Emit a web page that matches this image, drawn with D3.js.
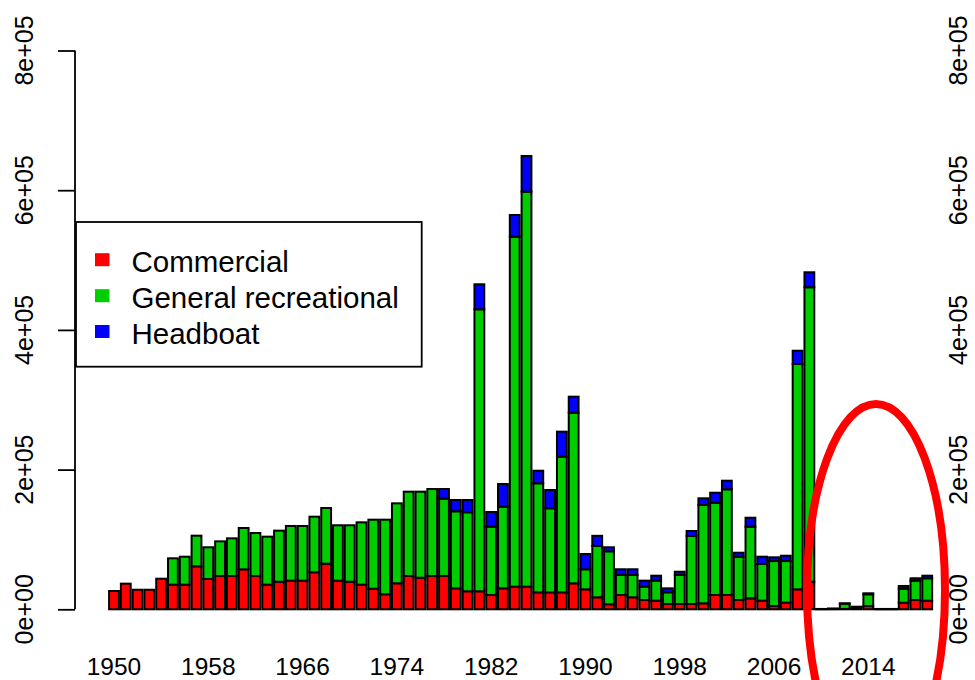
<!DOCTYPE html>
<html>
<head>
<meta charset="utf-8">
<script src="https://cdn.jsdelivr.net/npm/d3@7"></script>
<style>
  html, body { margin: 0; padding: 0; background: #fff; }
  svg { display: block; }
  text { font-family: "Liberation Sans", Arial, Helvetica, sans-serif; fill: #000; }
</style>
</head>
<body>
<svg id="chart" width="975" height="680"></svg>
<script>
const years = d3.range(1950, 2020);
const commercial = [
  26200, 36700, 28000, 28000, 43800, 35300, 35300, 61500, 43400, 47700,
  47700, 57200, 47700, 35300, 39500, 41000, 41000, 53000, 65300, 41000,
  39500, 35300, 29500, 21500, 37200, 47700, 45200, 47700, 47700, 30000,
  25800, 25800, 20500, 30000, 32400, 32400, 24300, 24300, 24300, 37200,
  28600, 17200, 7200, 20500, 17200, 13300, 12400, 7600, 7600, 7600,
  8600, 20500, 20500, 13300, 15700, 12400, 4700, 9500, 28600, 39500,
  200, 300, 500, 1000, 4700, 200, 200, 9500, 13300, 12400
];
const recreational = [
  0, 0, 0, 0, 0, 37700, 40000, 43900, 45400, 49600,
  53900, 59200, 61500, 68700, 73100, 78300, 78300, 79600, 79700, 79300,
  80800, 89200, 98800, 106800, 114500, 120700, 123200, 124500, 110700, 110300,
  113100, 403700, 97800, 116900, 501000, 565500, 156100, 120300, 194200, 244300,
  28700, 73600, 75800, 28600, 31900, 19100, 28600, 16700, 41500, 97400,
  140700, 132100, 151300, 62000, 102600, 52500, 64400, 59600, 322600, 421500,
  200, 500, 7500, 1500, 16800, 200, 200, 20000, 27700, 32000
];
const headboat = [
  0, 0, 0, 0, 0, 0, 0, 0, 0, 0,
  0, 0, 0, 0, 0, 0, 0, 0, 0, 0,
  0, 0, 0, 0, 0, 0, 0, 0, 13800, 16200,
  17600, 35800, 21000, 32500, 31100, 51100, 18000, 26200, 35800, 22900,
  21900, 14400, 5800, 8200, 8200, 8600, 7100, 5700, 4700, 7100,
  9600, 14300, 12300, 5700, 12800, 10400, 5300, 7600, 19000, 21500,
  100, 200, 600, 1200, 1400, 100, 100, 3900, 3400, 3700
];
const seriesNames = ["Commercial", "General recreational", "Headboat"];
const seriesColors = ["#ff0000", "#00cd00", "#0000ff"];
const xLabelYears = [1950, 1958, 1966, 1974, 1982, 1990, 1998, 2006, 2014];
const yTicks = [0, 200000, 400000, 600000, 800000];

const svg = d3.select("#chart");

const rows = years.map((y, i) => ({
  year: y,
  Commercial: commercial[i],
  "General recreational": recreational[i],
  Headboat: headboat[i]
}));
const stacked = d3.stack().keys(seriesNames)(rows);

const step = 11.786;
const bw = step / 1.2;
const firstCenter = 114;
const x = d3.scaleBand()
  .domain(years)
  .range([firstCenter - bw / 2, firstCenter - bw / 2 + step * (years.length - 1 / 6)])
  .paddingInner(1 / 6)
  .paddingOuter(0);

const y = d3.scaleLinear().domain([0, 800000]).range([609.3, 50.5]);

// bars
const layers = svg.append("g");
stacked.forEach((layer, li) => {
  layers.append("g")
    .selectAll("rect")
    .data(layer)
    .join("rect")
    .attr("x", d => x(d.data.year))
    .attr("width", x.bandwidth())
    .attr("y", d => y(d[1]))
    .attr("height", d => Math.max(0, y(d[0]) - y(d[1])))
    .attr("fill", seriesColors[li])
    .attr("stroke", "#000")
    .attr("stroke-width", 2);
});

// left axis
const axisX = 75;
const yAxis = d3.axisLeft(y).tickValues(yTicks).tickSize(17).tickFormat(() => "");
const gAxis = svg.append("g").attr("transform", `translate(${axisX},0)`).call(yAxis);
gAxis.select(".domain").attr("d", `M0,${y(0)}V${y(800000)}`).attr("stroke", "#000").attr("stroke-width", 1.8);
gAxis.selectAll(".tick line").attr("stroke", "#000").attr("stroke-width", 1.8);

const fmt = v => {
  if (v === 0) return "0e+00";
  const e = Math.floor(Math.log10(v));
  const m = v / Math.pow(10, e);
  return `${m}e+${String(e).padStart(2, "0")}`;
};

// left tick labels (rotated)
svg.append("g").selectAll("text")
  .data(yTicks)
  .join("text")
  .attr("transform", d => `translate(33,${y(d)}) rotate(-90)`)
  .attr("text-anchor", "middle")
  .attr("font-size", 25)
  .text(fmt);

// right tick labels (rotated, no axis line)
svg.append("g").selectAll("text")
  .data(yTicks)
  .join("text")
  .attr("transform", d => `translate(967,${y(d)}) rotate(-90)`)
  .attr("text-anchor", "middle")
  .attr("font-size", 25)
  .text(fmt);

// x labels
svg.append("g").selectAll("text")
  .data(xLabelYears)
  .join("text")
  .attr("x", d => x(d) + x.bandwidth() / 2)
  .attr("y", 675)
  .attr("text-anchor", "middle")
  .attr("font-size", 24.5)
  .text(d => d);

// legend
const legend = svg.append("g");
legend.append("rect")
  .attr("x", 76).attr("y", 222)
  .attr("width", 345.7).attr("height", 144.7)
  .attr("fill", "#fff").attr("stroke", "#000").attr("stroke-width", 1.8);
const baselines = [271.7, 307.7, 343.5];
seriesNames.forEach((name, i) => {
  legend.append("rect")
    .attr("x", 95).attr("y", baselines[i] - 12 - 6.5)
    .attr("width", 14.5).attr("height", 13)
    .attr("fill", seriesColors[i]);
  legend.append("text")
    .attr("x", 131.5).attr("y", baselines[i])
    .attr("font-size", 29.5)
    .text(name);
});

// highlight ellipse
svg.append("ellipse")
  .attr("cx", 876).attr("cy", 590)
  .attr("rx", 69).attr("ry", 186)
  .attr("fill", "none")
  .attr("stroke", "#ff0000")
  .attr("stroke-width", 8);
</script>
</body>
</html>
